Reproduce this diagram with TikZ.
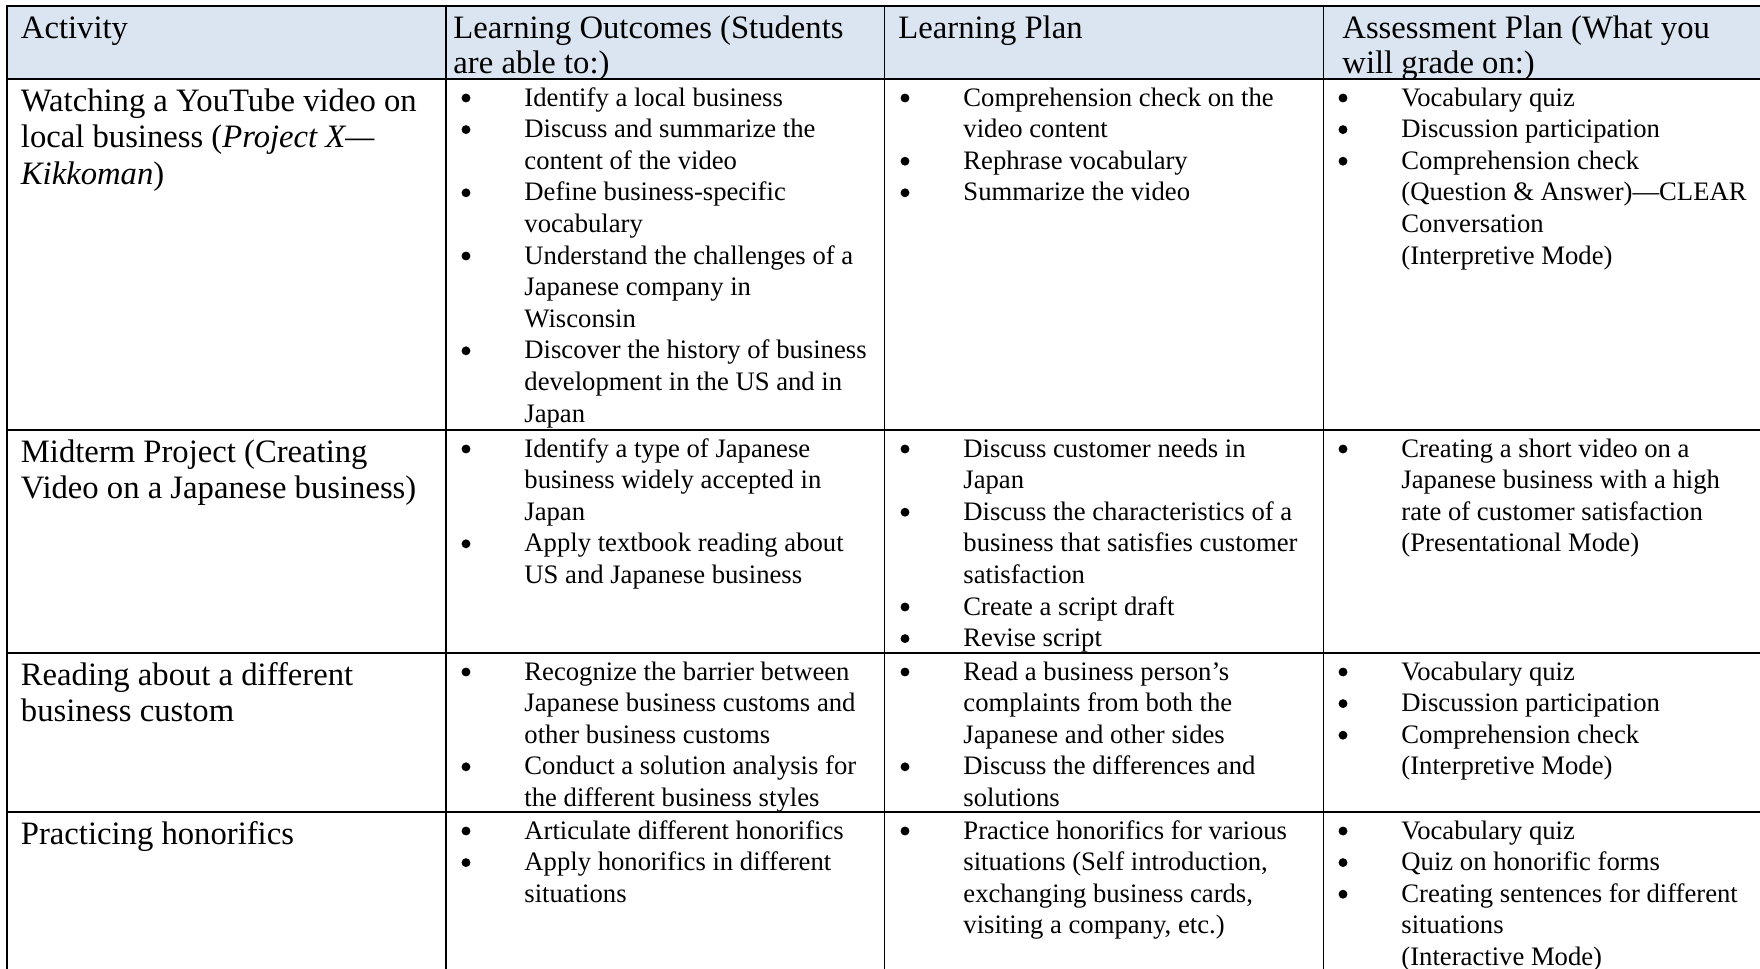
\documentclass[tikz,border=0pt]{standalone}
\usepackage{fontspec}
\setmainfont{Liberation Serif}
\definecolor{hdrfill}{HTML}{DBE5F1}
\tikzset{
  bodytxt/.style={anchor=base west, inner sep=0pt, font=\fontsize{12}{14}\selectfont},
  acttxt/.style={anchor=base west, inner sep=0pt, font=\fontsize{14.7}{16}\selectfont},
  hdrtxt/.style={anchor=base west, inner sep=0pt, font=\fontsize{14.7}{16}\selectfont},
  bul/.style={circle, fill=black, inner sep=0pt, minimum size=4pt},
  gridline/.style={line width=0.65pt, black},
  outerline/.style={line width=0.95pt, black}
}
% body line k of current row: baseline = \rtop + 27 + k*31.6
\newcommand{\TL}[4]{\node[bodytxt] (#1) at (#2,\rtop+27+#3*31.6) {#4};}
\newcommand{\BL}[4]{\node[bul] (#1b) at (#2-58,\rtop+19+#3*31.6) {};
  \node[bodytxt] (#1) at (#2,\rtop+27+#3*31.6) {#4};}
\newcommand{\AL}[3]{\node[acttxt] (#1) at (20.5,\rtop+32+#2*36.5) {#3};}
\begin{document}
\begin{tikzpicture}[x=0.45pt,y=-0.45pt]
\useasboundingbox (0,0) rectangle (1760,969);
\clip (0,0) rectangle (1760,969);
\fill[white] (0,0) rectangle (1760,969);
% header fill
\fill[hdrfill] (6.7,5.7) rectangle (1762,79);
% grid
\foreach \yy in {79,430,653,812} \draw[gridline] (6.7,\yy) -- (1762,\yy);
\foreach \xx in {446,884.7,1323.3} \draw[gridline] (\xx,5.7) -- (\xx,980);
\draw[outerline] (6.7,980) -- (6.7,5.7) -- (1762,5.7) -- (1762,980);

% header
\node[hdrtxt] (h1) at (20.5,38) {Activity};
\node[hdrtxt] (h2a) at (453,38) {Learning Outcomes (Students};
\node[hdrtxt] (h2b) at (453,73) {are able to:)};
\node[hdrtxt] (h3) at (898,38) {Learning Plan};
\node[hdrtxt] (h4a) at (1342,38) {Assessment Plan (What you};
\node[hdrtxt] (h4b) at (1342,73) {will grade on:)};

% ---------- row 1 ----------
\def\rtop{79}
\AL{a1a}{0}{Watching a YouTube video on}
\AL{a1b}{1}{local business (\textit{Project X—}}
\AL{a1c}{2}{\textit{Kikkoman})}
\BL{o1a}{524}{0}{Identify a local business}
\BL{o1b}{524}{1}{Discuss and summarize the}
\TL{o1c}{524}{2}{content of the video}
\BL{o1d}{524}{3}{Define business-specific}
\TL{o1e}{524}{4}{vocabulary}
\BL{o1f}{524}{5}{Understand the challenges of a}
\TL{o1g}{524}{6}{Japanese company in}
\TL{o1h}{524}{7}{Wisconsin}
\BL{o1i}{524}{8}{Discover the history of business}
\TL{o1j}{524}{9}{development in the US and in}
\TL{o1k}{524}{10}{Japan}
\BL{p1a}{963}{0}{Comprehension check on the}
\TL{p1b}{963}{1}{video content}
\BL{p1c}{963}{2}{Rephrase vocabulary}
\BL{p1d}{963}{3}{Summarize the video}
\BL{s1a}{1401}{0}{Vocabulary quiz}
\BL{s1b}{1401}{1}{Discussion participation}
\BL{s1c}{1401}{2}{Comprehension check}
\TL{s1d}{1401}{3}{(Question \& Answer)—CLEAR}
\TL{s1e}{1401}{4}{Conversation}
\TL{s1f}{1401}{5}{(Interpretive Mode)}

% ---------- row 2 ----------
\def\rtop{430}
\AL{a2a}{0}{Midterm Project (Creating}
\AL{a2b}{1}{Video on a Japanese business)}
\BL{o2a}{524}{0}{Identify a type of Japanese}
\TL{o2b}{524}{1}{business widely accepted in}
\TL{o2c}{524}{2}{Japan}
\BL{o2d}{524}{3}{Apply textbook reading about}
\TL{o2e}{524}{4}{US and Japanese business}
\BL{p2a}{963}{0}{Discuss customer needs in}
\TL{p2b}{963}{1}{Japan}
\BL{p2c}{963}{2}{Discuss the characteristics of a}
\TL{p2d}{963}{3}{business that satisfies customer}
\TL{p2e}{963}{4}{satisfaction}
\BL{p2f}{963}{5}{Create a script draft}
\BL{p2g}{963}{6}{Revise script}
\BL{s2a}{1401}{0}{Creating a short video on a}
\TL{s2b}{1401}{1}{Japanese business with a high}
\TL{s2c}{1401}{2}{rate of customer satisfaction}
\TL{s2d}{1401}{3}{(Presentational Mode)}

% ---------- row 3 ----------
\def\rtop{653}
\AL{a3a}{0}{Reading about a different}
\AL{a3b}{1}{business custom}
\BL{o3a}{524}{0}{Recognize the barrier between}
\TL{o3b}{524}{1}{Japanese business customs and}
\TL{o3c}{524}{2}{other business customs}
\BL{o3d}{524}{3}{Conduct a solution analysis for}
\TL{o3e}{524}{4}{the different business styles}
\BL{p3a}{963}{0}{Read a business person’s}
\TL{p3b}{963}{1}{complaints from both the}
\TL{p3c}{963}{2}{Japanese and other sides}
\BL{p3d}{963}{3}{Discuss the differences and}
\TL{p3e}{963}{4}{solutions}
\BL{s3a}{1401}{0}{Vocabulary quiz}
\BL{s3b}{1401}{1}{Discussion participation}
\BL{s3c}{1401}{2}{Comprehension check}
\TL{s3d}{1401}{3}{(Interpretive Mode)}

% ---------- row 4 ----------
\def\rtop{812}
\AL{a4a}{0}{Practicing honorifics}
\BL{o4a}{524}{0}{Articulate different honorifics}
\BL{o4b}{524}{1}{Apply honorifics in different}
\TL{o4c}{524}{2}{situations}
\BL{p4a}{963}{0}{Practice honorifics for various}
\TL{p4b}{963}{1}{situations (Self introduction,}
\TL{p4c}{963}{2}{exchanging business cards,}
\TL{p4d}{963}{3}{visiting a company, etc.)}
\BL{s4a}{1401}{0}{Vocabulary quiz}
\BL{s4b}{1401}{1}{Quiz on honorific forms}
\BL{s4c}{1401}{2}{Creating sentences for different}
\TL{s4d}{1401}{3}{situations}
\TL{s4e}{1401}{4}{(Interactive Mode)}
\end{tikzpicture}
\end{document}
